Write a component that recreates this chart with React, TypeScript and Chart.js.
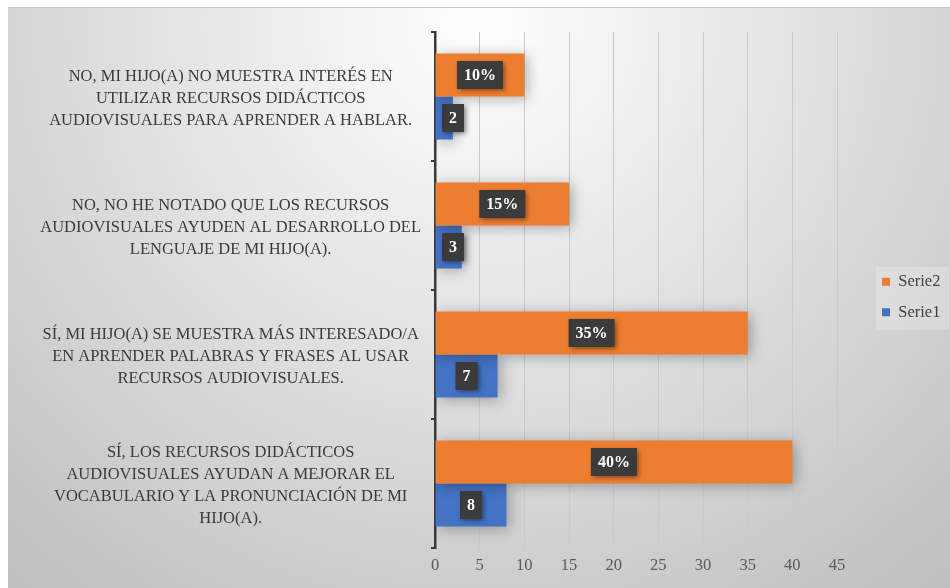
import React, { useEffect, useRef } from 'react';
import { Chart, registerables } from 'chart.js';

Chart.register(...registerables);

const categories: string[][] = [
  ['NO, MI HIJO(A) NO MUESTRA INTERÉS EN', 'UTILIZAR RECURSOS DIDÁCTICOS', 'AUDIOVISUALES PARA APRENDER A HABLAR.'],
  ['NO, NO HE NOTADO QUE LOS RECURSOS', 'AUDIOVISUALES AYUDEN AL DESARROLLO DEL', 'LENGUAJE DE MI HIJO(A).'],
  ['SÍ, MI HIJO(A) SE MUESTRA MÁS INTERESADO/A', 'EN APRENDER PALABRAS Y FRASES AL USAR', 'RECURSOS AUDIOVISUALES.'],
  ['SÍ, LOS RECURSOS DIDÁCTICOS', 'AUDIOVISUALES AYUDAN A MEJORAR EL', 'VOCABULARIO Y LA PRONUNCIACIÓN DE MI', 'HIJO(A).'],
];
const seriesNames = ['Serie2', 'Serie1'];
const serie2Values = [10, 15, 35, 40];
const serie1Values = [2, 3, 7, 8];
const serie2Labels = ['10%', '15%', '35%', '40%'];
const serie1Labels = ['2', '3', '7', '8'];
const xMin = 0;
const xMax = 45;
const xStep = 5;

const valueLabels = [serie2Labels, serie1Labels];
const SERIF = "'Liberation Serif', 'Times New Roman', serif";

const backgroundPlugin = {
  id: 'bgPlugin',
  beforeDraw(chart: any) {
    const { ctx, width, height } = chart;
    ctx.save();
    const g = ctx.createRadialGradient(470, 15, 0, 470, 15, 760);
    g.addColorStop(0, '#ffffff');
    g.addColorStop(1, '#bcbcbc');
    ctx.fillStyle = g;
    ctx.fillRect(0, 0, width, height);
    // legend backdrop
    ctx.fillStyle = 'rgba(255,255,255,0.22)';
    ctx.fillRect(868, 259, 73, 63);
    ctx.restore();
  },
};

const barDecorPlugin = {
  id: 'barDecor',
  beforeDatasetsDraw(chart: any) {
    const ctx = chart.ctx;
    ctx.save();
    ctx.shadowColor = 'rgba(0,0,0,0.3)';
    ctx.shadowBlur = 14;
    ctx.shadowOffsetX = 3;
    ctx.shadowOffsetY = 2;
  },
  afterDatasetsDraw(chart: any) {
    const ctx = chart.ctx;
    ctx.restore();
    const area = chart.chartArea;
    ctx.save();
    ctx.font = `bold 16px ${SERIF}`;
    ctx.textAlign = 'center';
    ctx.textBaseline = 'middle';
    chart.data.datasets.forEach((_ds: any, i: number) => {
      const meta = chart.getDatasetMeta(i);
      meta.data.forEach((bar: any, j: number) => {
        const { x, y, base } = bar.getProps(['x', 'y', 'base'], true);
        const text = valueLabels[i][j];
        const tw = ctx.measureText(text).width;
        const w = tw + 14;
        const h = 28;
        let left = (x + base) / 2 - w / 2;
        if (left < area.left + 7) left = area.left + 7;
        const top = y - h / 2;
        ctx.save();
        ctx.shadowColor = 'rgba(0,0,0,0.45)';
        ctx.shadowBlur = 5;
        ctx.shadowOffsetX = 2;
        ctx.shadowOffsetY = 2;
        ctx.fillStyle = '#3b3b3b';
        ctx.fillRect(left, top, w, h);
        ctx.restore();
        ctx.fillStyle = '#ffffff';
        ctx.fillText(text, left + w / 2, y + 1);
      });
    });
    ctx.restore();
  },
};

const legendPlacePlugin = {
  id: 'legendPlace',
  afterLayout(chart: any) {
    const lg = chart.legend;
    if (!lg) return;
    const T = 251.5;
    lg.left = 860;
    lg.right = 942;
    lg.top = T;
    lg.bottom = T + 75;
  },
};

export default function App() {
  const canvasRef = useRef<HTMLCanvasElement | null>(null);

  useEffect(() => {
    const canvas = canvasRef.current;
    if (!canvas) return;
    const chart = new Chart(canvas, {
      type: 'bar',
      data: {
        labels: categories,
        datasets: [
          {
            label: seriesNames[0],
            data: serie2Values,
            backgroundColor: '#ED7D31',
            borderWidth: 0,
            categoryPercentage: 0.667,
            barPercentage: 1,
          },
          {
            label: seriesNames[1],
            data: serie1Values,
            backgroundColor: '#4472C4',
            borderWidth: 0,
            categoryPercentage: 0.667,
            barPercentage: 1,
          },
        ],
      },
      options: {
        indexAxis: 'y',
        responsive: false,
        animation: false,
        layout: { padding: { top: 24, right: 113, left: 0, bottom: 0 } },
        scales: {
          x: {
            type: 'linear',
            min: xMin,
            max: xMax,
            ticks: {
              stepSize: xStep,
              color: '#595959',
              padding: 8,
              font: { family: SERIF, size: 16.5 },
            },
            grid: {
              color: (c: any) => (c.tick && c.tick.value === 0 ? 'rgba(0,0,0,0)' : '#cacaca'),
              lineWidth: 1,
              drawTicks: false,
            },
            border: { display: false },
            afterFit: (s: any) => {
              s.height = 40;
            },
          },
          y: {
            type: 'category',
            grid: {
              display: true,
              drawOnChartArea: false,
              drawTicks: true,
              tickLength: 4,
              color: '#3a3a3a',
              lineWidth: 2,
              offset: true,
            },
            border: { display: true, color: '#3a3a3a', width: 2.5 },
            ticks: {
              autoSkip: false,
              crossAlign: 'center',
              padding: 10,
              labelOffset: 2.5,
              color: '#3a3a3a',
              font: { family: SERIF, size: 16.5, lineHeight: 1.333 },
            },
            afterFit: (s: any) => {
              s.width = 427;
              s.paddingTop = 0;
              s.paddingBottom = 0;
            },
          },
        },
        plugins: {
          legend: {
            display: true,
            position: 'chartArea',
            labels: {
              boxWidth: 8,
              boxHeight: 8,
              padding: 14,
              color: '#404040',
              font: { family: SERIF, size: 16.5 },
            },
          },
          tooltip: { enabled: false },
        },
      } as any,
      plugins: [backgroundPlugin, barDecorPlugin, legendPlacePlugin],
    });
    return () => chart.destroy();
  }, []);

  return (
    <div
      style={{
        position: 'absolute',
        left: 8,
        top: 7,
        width: 942,
        height: 581,
        borderTop: '1px solid #c8c8c8',
        boxSizing: 'border-box',
        overflow: 'hidden',
      }}
    >
      <canvas ref={canvasRef} width={942} height={580} style={{ display: 'block' }} />
    </div>
  );
}
